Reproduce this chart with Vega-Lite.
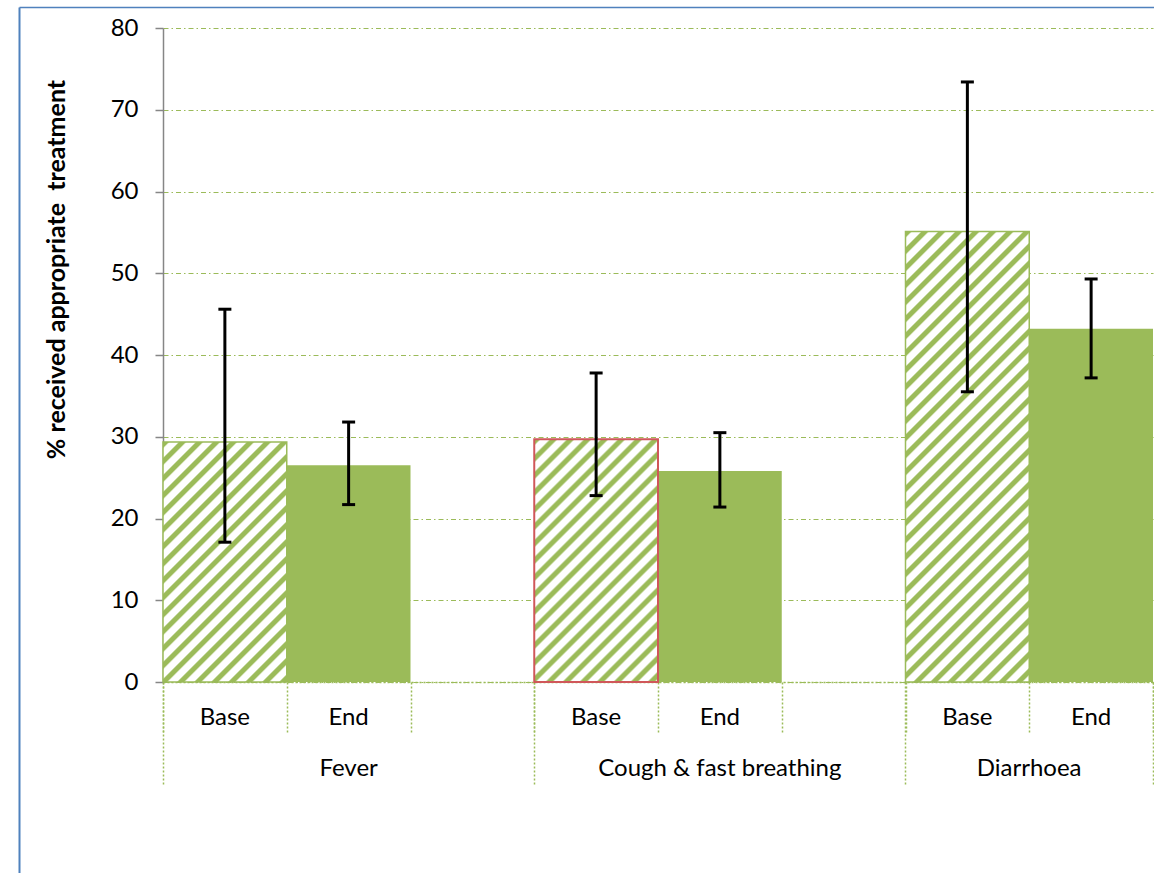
{
  "$schema": "https://vega.github.io/schema/vega-lite/v6.json",
  "width": 990,
  "height": 654,
  "autosize": {"type": "none"},
  "padding": {"left": 163, "top": 28, "right": 1, "bottom": 191},
  "background": "white",
  "config": {"view": {"stroke": null}, "font": "Lato"},
  "data": {
    "values": [
      {"group": "Fever", "phase": "Base", "slot": "Fever|Base", "value": 29.35, "lower": 17.1, "upper": 45.6},
      {"group": "Fever", "phase": "End", "slot": "Fever|End", "value": 26.5, "lower": 21.7, "upper": 31.8},
      {"group": "Cough & fast breathing", "phase": "Base", "slot": "Cough & fast breathing|Base", "value": 29.7, "lower": 22.8, "upper": 37.8},
      {"group": "Cough & fast breathing", "phase": "End", "slot": "Cough & fast breathing|End", "value": 25.8, "lower": 21.4, "upper": 30.5},
      {"group": "Diarrhoea", "phase": "Base", "slot": "Diarrhoea|Base", "value": 55.1, "lower": 35.5, "upper": 73.4},
      {"group": "Diarrhoea", "phase": "End", "slot": "Diarrhoea|End", "value": 43.2, "lower": 37.2, "upper": 49.3}
    ]
  },
  "layer": [
    {
      "layer": [
        {
          "transform": [{"filter": "datum.phase == 'End'"}],
          "mark": {"type": "bar", "fill": "#9BBB59"},
          "encoding": {
            "x": {
              "field": "slot", "type": "nominal",
              "scale": {"type": "band", "domain": ["Fever|Base", "Fever|End", "Fever|gap", "Cough & fast breathing|Base", "Cough & fast breathing|End", "Cough & fast breathing|gap", "Diarrhoea|Base", "Diarrhoea|End"], "paddingInner": 0, "paddingOuter": 0},
              "axis": {
                "orient": "bottom", "title": null, "labels": false, "grid": false,
                "domain": true, "domainColor": "#9BBB59", "domainDash": [2, 2], "domainWidth": 1.5,
                "ticks": true, "tickBand": "extent", "tickColor": "#9BBB59", "tickDash": [2, 2], "tickWidth": 1.5, "tickSize": 51
              }
            },
            "y": {
              "field": "value", "type": "quantitative", "title": "% received appropriate\u00a0 treatment",
              "scale": {"domain": [0, 80], "nice": false},
              "axis": {
                "orient": "left",
                "titleFont": "Lato", "titleFontSize": 25, "titleFontWeight": "bold", "titleColor": "#000000",
                "titleX": -99, "titleY": 241, "titleAngle": -90, "titleAlign": "center", "titleBaseline": "alphabetic",
                "values": [0, 10, 20, 30, 40, 50, 60, 70, 80],
                "domainColor": "#868686", "domainWidth": 1.5,
                "tickColor": "#868686", "tickWidth": 1.5, "tickSize": 8,
                "labelFont": "Lato", "labelFontSize": 24, "labelColor": "#000000", "labelPadding": 17,
                "grid": true, "gridColor": "#9BBB59", "gridDash": [5, 3, 1.5, 3], "gridWidth": 1
              }
            }
          }
        },
        {
          "transform": [{"filter": "datum.slot == 'Fever|Base'"}],
          "mark": {"type": "bar", "stroke": "#9BBB59", "strokeWidth": 1.5,
            "fill": {"gradient": "linear", "x1": 0, "y1": 0, "x2": 0.63517, "y2": 1.23134, "stops": [
              {"offset": 0, "color": "#9BBB59"}, {"offset": 0.01364, "color": "#9BBB59"}, {"offset": 0.01909, "color": "#ffffff"}, {"offset": 0.04, "color": "#ffffff"},
              {"offset": 0.04545, "color": "#9BBB59"}, {"offset": 0.05909, "color": "#9BBB59"}, {"offset": 0.06455, "color": "#ffffff"}, {"offset": 0.08545, "color": "#ffffff"},
              {"offset": 0.09091, "color": "#9BBB59"}, {"offset": 0.10455, "color": "#9BBB59"}, {"offset": 0.11, "color": "#ffffff"}, {"offset": 0.13091, "color": "#ffffff"},
              {"offset": 0.13636, "color": "#9BBB59"}, {"offset": 0.15, "color": "#9BBB59"}, {"offset": 0.15545, "color": "#ffffff"}, {"offset": 0.17636, "color": "#ffffff"},
              {"offset": 0.18182, "color": "#9BBB59"}, {"offset": 0.19545, "color": "#9BBB59"}, {"offset": 0.20091, "color": "#ffffff"}, {"offset": 0.22182, "color": "#ffffff"},
              {"offset": 0.22727, "color": "#9BBB59"}, {"offset": 0.24091, "color": "#9BBB59"}, {"offset": 0.24636, "color": "#ffffff"}, {"offset": 0.26727, "color": "#ffffff"},
              {"offset": 0.27273, "color": "#9BBB59"}, {"offset": 0.28636, "color": "#9BBB59"}, {"offset": 0.29182, "color": "#ffffff"}, {"offset": 0.31273, "color": "#ffffff"},
              {"offset": 0.31818, "color": "#9BBB59"}, {"offset": 0.33182, "color": "#9BBB59"}, {"offset": 0.33727, "color": "#ffffff"}, {"offset": 0.35818, "color": "#ffffff"},
              {"offset": 0.36364, "color": "#9BBB59"}, {"offset": 0.37727, "color": "#9BBB59"}, {"offset": 0.38273, "color": "#ffffff"}, {"offset": 0.40364, "color": "#ffffff"},
              {"offset": 0.40909, "color": "#9BBB59"}, {"offset": 0.42273, "color": "#9BBB59"}, {"offset": 0.42818, "color": "#ffffff"}, {"offset": 0.44909, "color": "#ffffff"},
              {"offset": 0.45455, "color": "#9BBB59"}, {"offset": 0.46818, "color": "#9BBB59"}, {"offset": 0.47364, "color": "#ffffff"}, {"offset": 0.49455, "color": "#ffffff"},
              {"offset": 0.5, "color": "#9BBB59"}, {"offset": 0.51364, "color": "#9BBB59"}, {"offset": 0.51909, "color": "#ffffff"}, {"offset": 0.54, "color": "#ffffff"},
              {"offset": 0.54545, "color": "#9BBB59"}, {"offset": 0.55909, "color": "#9BBB59"}, {"offset": 0.56455, "color": "#ffffff"}, {"offset": 0.58545, "color": "#ffffff"},
              {"offset": 0.59091, "color": "#9BBB59"}, {"offset": 0.60455, "color": "#9BBB59"}, {"offset": 0.61, "color": "#ffffff"}, {"offset": 0.63091, "color": "#ffffff"},
              {"offset": 0.63636, "color": "#9BBB59"}, {"offset": 0.65, "color": "#9BBB59"}, {"offset": 0.65545, "color": "#ffffff"}, {"offset": 0.67636, "color": "#ffffff"},
              {"offset": 0.68182, "color": "#9BBB59"}, {"offset": 0.69545, "color": "#9BBB59"}, {"offset": 0.70091, "color": "#ffffff"}, {"offset": 0.72182, "color": "#ffffff"},
              {"offset": 0.72727, "color": "#9BBB59"}, {"offset": 0.74091, "color": "#9BBB59"}, {"offset": 0.74636, "color": "#ffffff"}, {"offset": 0.76727, "color": "#ffffff"},
              {"offset": 0.77273, "color": "#9BBB59"}, {"offset": 0.78636, "color": "#9BBB59"}, {"offset": 0.79182, "color": "#ffffff"}, {"offset": 0.81273, "color": "#ffffff"},
              {"offset": 0.81818, "color": "#9BBB59"}, {"offset": 0.83182, "color": "#9BBB59"}, {"offset": 0.83727, "color": "#ffffff"}, {"offset": 0.85818, "color": "#ffffff"},
              {"offset": 0.86364, "color": "#9BBB59"}, {"offset": 0.87727, "color": "#9BBB59"}, {"offset": 0.88273, "color": "#ffffff"}, {"offset": 0.90364, "color": "#ffffff"},
              {"offset": 0.90909, "color": "#9BBB59"}, {"offset": 0.92273, "color": "#9BBB59"}, {"offset": 0.92818, "color": "#ffffff"}, {"offset": 0.94909, "color": "#ffffff"},
              {"offset": 0.95455, "color": "#9BBB59"}, {"offset": 0.96818, "color": "#9BBB59"}, {"offset": 0.97364, "color": "#ffffff"}, {"offset": 0.99455, "color": "#ffffff"},
              {"offset": 1, "color": "#9BBB59"}
            ]}
          },
          "encoding": {
            "x": {
              "field": "slot", "type": "nominal",
              "axis": {
                "orient": "bottom", "title": null, "domain": false, "labels": false, "grid": false,
                "values": ["Fever|Base", "Cough & fast breathing|Base", "Diarrhoea|Base"],
                "ticks": true, "bandPosition": 0, "tickColor": "#9BBB59", "tickDash": [2, 2], "tickWidth": 1.5, "tickSize": 103
              }
            },
            "y": {"field": "value", "type": "quantitative", "title": "% received appropriate\u00a0 treatment"}
          }
        },
        {
          "transform": [{"filter": "datum.slot == 'Cough & fast breathing|Base'"}],
          "mark": {"type": "bar", "stroke": "#D0575A", "strokeWidth": 2,
            "fill": {"gradient": "linear", "x1": 0, "y1": 0, "x2": 0.6232, "y2": 1.22273, "stops": [
              {"offset": 0, "color": "#9BBB59"}, {"offset": 0.01364, "color": "#9BBB59"}, {"offset": 0.01909, "color": "#ffffff"}, {"offset": 0.04, "color": "#ffffff"},
              {"offset": 0.04545, "color": "#9BBB59"}, {"offset": 0.05909, "color": "#9BBB59"}, {"offset": 0.06455, "color": "#ffffff"}, {"offset": 0.08545, "color": "#ffffff"},
              {"offset": 0.09091, "color": "#9BBB59"}, {"offset": 0.10455, "color": "#9BBB59"}, {"offset": 0.11, "color": "#ffffff"}, {"offset": 0.13091, "color": "#ffffff"},
              {"offset": 0.13636, "color": "#9BBB59"}, {"offset": 0.15, "color": "#9BBB59"}, {"offset": 0.15545, "color": "#ffffff"}, {"offset": 0.17636, "color": "#ffffff"},
              {"offset": 0.18182, "color": "#9BBB59"}, {"offset": 0.19545, "color": "#9BBB59"}, {"offset": 0.20091, "color": "#ffffff"}, {"offset": 0.22182, "color": "#ffffff"},
              {"offset": 0.22727, "color": "#9BBB59"}, {"offset": 0.24091, "color": "#9BBB59"}, {"offset": 0.24636, "color": "#ffffff"}, {"offset": 0.26727, "color": "#ffffff"},
              {"offset": 0.27273, "color": "#9BBB59"}, {"offset": 0.28636, "color": "#9BBB59"}, {"offset": 0.29182, "color": "#ffffff"}, {"offset": 0.31273, "color": "#ffffff"},
              {"offset": 0.31818, "color": "#9BBB59"}, {"offset": 0.33182, "color": "#9BBB59"}, {"offset": 0.33727, "color": "#ffffff"}, {"offset": 0.35818, "color": "#ffffff"},
              {"offset": 0.36364, "color": "#9BBB59"}, {"offset": 0.37727, "color": "#9BBB59"}, {"offset": 0.38273, "color": "#ffffff"}, {"offset": 0.40364, "color": "#ffffff"},
              {"offset": 0.40909, "color": "#9BBB59"}, {"offset": 0.42273, "color": "#9BBB59"}, {"offset": 0.42818, "color": "#ffffff"}, {"offset": 0.44909, "color": "#ffffff"},
              {"offset": 0.45455, "color": "#9BBB59"}, {"offset": 0.46818, "color": "#9BBB59"}, {"offset": 0.47364, "color": "#ffffff"}, {"offset": 0.49455, "color": "#ffffff"},
              {"offset": 0.5, "color": "#9BBB59"}, {"offset": 0.51364, "color": "#9BBB59"}, {"offset": 0.51909, "color": "#ffffff"}, {"offset": 0.54, "color": "#ffffff"},
              {"offset": 0.54545, "color": "#9BBB59"}, {"offset": 0.55909, "color": "#9BBB59"}, {"offset": 0.56455, "color": "#ffffff"}, {"offset": 0.58545, "color": "#ffffff"},
              {"offset": 0.59091, "color": "#9BBB59"}, {"offset": 0.60455, "color": "#9BBB59"}, {"offset": 0.61, "color": "#ffffff"}, {"offset": 0.63091, "color": "#ffffff"},
              {"offset": 0.63636, "color": "#9BBB59"}, {"offset": 0.65, "color": "#9BBB59"}, {"offset": 0.65545, "color": "#ffffff"}, {"offset": 0.67636, "color": "#ffffff"},
              {"offset": 0.68182, "color": "#9BBB59"}, {"offset": 0.69545, "color": "#9BBB59"}, {"offset": 0.70091, "color": "#ffffff"}, {"offset": 0.72182, "color": "#ffffff"},
              {"offset": 0.72727, "color": "#9BBB59"}, {"offset": 0.74091, "color": "#9BBB59"}, {"offset": 0.74636, "color": "#ffffff"}, {"offset": 0.76727, "color": "#ffffff"},
              {"offset": 0.77273, "color": "#9BBB59"}, {"offset": 0.78636, "color": "#9BBB59"}, {"offset": 0.79182, "color": "#ffffff"}, {"offset": 0.81273, "color": "#ffffff"},
              {"offset": 0.81818, "color": "#9BBB59"}, {"offset": 0.83182, "color": "#9BBB59"}, {"offset": 0.83727, "color": "#ffffff"}, {"offset": 0.85818, "color": "#ffffff"},
              {"offset": 0.86364, "color": "#9BBB59"}, {"offset": 0.87727, "color": "#9BBB59"}, {"offset": 0.88273, "color": "#ffffff"}, {"offset": 0.90364, "color": "#ffffff"},
              {"offset": 0.90909, "color": "#9BBB59"}, {"offset": 0.92273, "color": "#9BBB59"}, {"offset": 0.92818, "color": "#ffffff"}, {"offset": 0.94909, "color": "#ffffff"},
              {"offset": 0.95455, "color": "#9BBB59"}, {"offset": 0.96818, "color": "#9BBB59"}, {"offset": 0.97364, "color": "#ffffff"}, {"offset": 0.99455, "color": "#ffffff"},
              {"offset": 1, "color": "#9BBB59"}
            ]}
          },
          "encoding": {
            "x": {
              "field": "slot", "type": "nominal",
              "axis": {
                "orient": "bottom", "title": null, "domain": false, "labels": false, "grid": false,
                "values": ["Diarrhoea|End"],
                "ticks": true, "bandPosition": 1, "tickColor": "#9BBB59", "tickDash": [2, 2], "tickWidth": 1.5, "tickSize": 103
              }
            },
            "y": {"field": "value", "type": "quantitative", "title": "% received appropriate\u00a0 treatment"}
          }
        },
        {
          "transform": [{"filter": "datum.slot == 'Diarrhoea|Base'"}],
          "mark": {"type": "bar", "stroke": "#9BBB59", "strokeWidth": 1.5,
            "fill": {"gradient": "linear", "x1": 0, "y1": 0, "x2": 0.32785, "y2": 1.19323, "stops": [
              {"offset": 0, "color": "#9BBB59"}, {"offset": 0.00882, "color": "#9BBB59"}, {"offset": 0.01235, "color": "#ffffff"}, {"offset": 0.02588, "color": "#ffffff"},
              {"offset": 0.02941, "color": "#9BBB59"}, {"offset": 0.03824, "color": "#9BBB59"}, {"offset": 0.04176, "color": "#ffffff"}, {"offset": 0.05529, "color": "#ffffff"},
              {"offset": 0.05882, "color": "#9BBB59"}, {"offset": 0.06765, "color": "#9BBB59"}, {"offset": 0.07118, "color": "#ffffff"}, {"offset": 0.08471, "color": "#ffffff"},
              {"offset": 0.08824, "color": "#9BBB59"}, {"offset": 0.09706, "color": "#9BBB59"}, {"offset": 0.10059, "color": "#ffffff"}, {"offset": 0.11412, "color": "#ffffff"},
              {"offset": 0.11765, "color": "#9BBB59"}, {"offset": 0.12647, "color": "#9BBB59"}, {"offset": 0.13, "color": "#ffffff"}, {"offset": 0.14353, "color": "#ffffff"},
              {"offset": 0.14706, "color": "#9BBB59"}, {"offset": 0.15588, "color": "#9BBB59"}, {"offset": 0.15941, "color": "#ffffff"}, {"offset": 0.17294, "color": "#ffffff"},
              {"offset": 0.17647, "color": "#9BBB59"}, {"offset": 0.18529, "color": "#9BBB59"}, {"offset": 0.18882, "color": "#ffffff"}, {"offset": 0.20235, "color": "#ffffff"},
              {"offset": 0.20588, "color": "#9BBB59"}, {"offset": 0.21471, "color": "#9BBB59"}, {"offset": 0.21824, "color": "#ffffff"}, {"offset": 0.23176, "color": "#ffffff"},
              {"offset": 0.23529, "color": "#9BBB59"}, {"offset": 0.24412, "color": "#9BBB59"}, {"offset": 0.24765, "color": "#ffffff"}, {"offset": 0.26118, "color": "#ffffff"},
              {"offset": 0.26471, "color": "#9BBB59"}, {"offset": 0.27353, "color": "#9BBB59"}, {"offset": 0.27706, "color": "#ffffff"}, {"offset": 0.29059, "color": "#ffffff"},
              {"offset": 0.29412, "color": "#9BBB59"}, {"offset": 0.30294, "color": "#9BBB59"}, {"offset": 0.30647, "color": "#ffffff"}, {"offset": 0.32, "color": "#ffffff"},
              {"offset": 0.32353, "color": "#9BBB59"}, {"offset": 0.33235, "color": "#9BBB59"}, {"offset": 0.33588, "color": "#ffffff"}, {"offset": 0.34941, "color": "#ffffff"},
              {"offset": 0.35294, "color": "#9BBB59"}, {"offset": 0.36176, "color": "#9BBB59"}, {"offset": 0.36529, "color": "#ffffff"}, {"offset": 0.37882, "color": "#ffffff"},
              {"offset": 0.38235, "color": "#9BBB59"}, {"offset": 0.39118, "color": "#9BBB59"}, {"offset": 0.39471, "color": "#ffffff"}, {"offset": 0.40824, "color": "#ffffff"},
              {"offset": 0.41176, "color": "#9BBB59"}, {"offset": 0.42059, "color": "#9BBB59"}, {"offset": 0.42412, "color": "#ffffff"}, {"offset": 0.43765, "color": "#ffffff"},
              {"offset": 0.44118, "color": "#9BBB59"}, {"offset": 0.45, "color": "#9BBB59"}, {"offset": 0.45353, "color": "#ffffff"}, {"offset": 0.46706, "color": "#ffffff"},
              {"offset": 0.47059, "color": "#9BBB59"}, {"offset": 0.47941, "color": "#9BBB59"}, {"offset": 0.48294, "color": "#ffffff"}, {"offset": 0.49647, "color": "#ffffff"},
              {"offset": 0.5, "color": "#9BBB59"}, {"offset": 0.50882, "color": "#9BBB59"}, {"offset": 0.51235, "color": "#ffffff"}, {"offset": 0.52588, "color": "#ffffff"},
              {"offset": 0.52941, "color": "#9BBB59"}, {"offset": 0.53824, "color": "#9BBB59"}, {"offset": 0.54176, "color": "#ffffff"}, {"offset": 0.55529, "color": "#ffffff"},
              {"offset": 0.55882, "color": "#9BBB59"}, {"offset": 0.56765, "color": "#9BBB59"}, {"offset": 0.57118, "color": "#ffffff"}, {"offset": 0.58471, "color": "#ffffff"},
              {"offset": 0.58824, "color": "#9BBB59"}, {"offset": 0.59706, "color": "#9BBB59"}, {"offset": 0.60059, "color": "#ffffff"}, {"offset": 0.61412, "color": "#ffffff"},
              {"offset": 0.61765, "color": "#9BBB59"}, {"offset": 0.62647, "color": "#9BBB59"}, {"offset": 0.63, "color": "#ffffff"}, {"offset": 0.64353, "color": "#ffffff"},
              {"offset": 0.64706, "color": "#9BBB59"}, {"offset": 0.65588, "color": "#9BBB59"}, {"offset": 0.65941, "color": "#ffffff"}, {"offset": 0.67294, "color": "#ffffff"},
              {"offset": 0.67647, "color": "#9BBB59"}, {"offset": 0.68529, "color": "#9BBB59"}, {"offset": 0.68882, "color": "#ffffff"}, {"offset": 0.70235, "color": "#ffffff"},
              {"offset": 0.70588, "color": "#9BBB59"}, {"offset": 0.71471, "color": "#9BBB59"}, {"offset": 0.71824, "color": "#ffffff"}, {"offset": 0.73176, "color": "#ffffff"},
              {"offset": 0.73529, "color": "#9BBB59"}, {"offset": 0.74412, "color": "#9BBB59"}, {"offset": 0.74765, "color": "#ffffff"}, {"offset": 0.76118, "color": "#ffffff"},
              {"offset": 0.76471, "color": "#9BBB59"}, {"offset": 0.77353, "color": "#9BBB59"}, {"offset": 0.77706, "color": "#ffffff"}, {"offset": 0.79059, "color": "#ffffff"},
              {"offset": 0.79412, "color": "#9BBB59"}, {"offset": 0.80294, "color": "#9BBB59"}, {"offset": 0.80647, "color": "#ffffff"}, {"offset": 0.82, "color": "#ffffff"},
              {"offset": 0.82353, "color": "#9BBB59"}, {"offset": 0.83235, "color": "#9BBB59"}, {"offset": 0.83588, "color": "#ffffff"}, {"offset": 0.84941, "color": "#ffffff"},
              {"offset": 0.85294, "color": "#9BBB59"}, {"offset": 0.86176, "color": "#9BBB59"}, {"offset": 0.86529, "color": "#ffffff"}, {"offset": 0.87882, "color": "#ffffff"},
              {"offset": 0.88235, "color": "#9BBB59"}, {"offset": 0.89118, "color": "#9BBB59"}, {"offset": 0.89471, "color": "#ffffff"}, {"offset": 0.90824, "color": "#ffffff"},
              {"offset": 0.91176, "color": "#9BBB59"}, {"offset": 0.92059, "color": "#9BBB59"}, {"offset": 0.92412, "color": "#ffffff"}, {"offset": 0.93765, "color": "#ffffff"},
              {"offset": 0.94118, "color": "#9BBB59"}, {"offset": 0.95, "color": "#9BBB59"}, {"offset": 0.95353, "color": "#ffffff"}, {"offset": 0.96706, "color": "#ffffff"},
              {"offset": 0.97059, "color": "#9BBB59"}, {"offset": 0.97941, "color": "#9BBB59"}, {"offset": 0.98294, "color": "#ffffff"}, {"offset": 0.99647, "color": "#ffffff"},
              {"offset": 1, "color": "#9BBB59"}
            ]}
          },
          "encoding": {
            "x": {"field": "slot", "type": "nominal", "axis": null},
            "y": {"field": "value", "type": "quantitative", "title": "% received appropriate\u00a0 treatment"}
          }
        },
        {
          "mark": {"type": "rule", "color": "#000000", "strokeWidth": 3},
          "encoding": {
            "x": {
              "field": "slot", "type": "nominal",
              "axis": {
                "orient": "bottom", "title": null, "domain": false, "ticks": false, "tickSize": 0, "grid": false,
                "labelExpr": "split(datum.value, '|')[1] == 'gap' ? '' : split(datum.value, '|')[1]",
                "labelFont": "Lato", "labelFontSize": 24, "labelColor": "#000000",
                "labelPadding": 35, "labelBaseline": "middle", "labelAngle": 0, "labelLimit": 0
              }
            },
            "y": {"field": "lower", "type": "quantitative", "title": "% received appropriate\u00a0 treatment"},
            "y2": {"field": "upper"}
          }
        },
        {
          "mark": {"type": "tick", "color": "#000000", "size": 13, "thickness": 3, "opacity": 1},
          "encoding": {
            "x": {
              "field": "slot", "type": "nominal",
              "axis": {
                "orient": "bottom", "title": null, "domain": false, "ticks": false, "tickSize": 0, "grid": false,
                "labelExpr": "split(datum.value, '|')[1] == 'End' ? split(datum.value, '|')[0] : ''",
                "labelOffset": {"condition": {"test": "datum.value == 'Diarrhoea|End'", "value": -62}, "value": 0},
                "labelFont": "Lato", "labelFontSize": 24, "labelColor": "#000000",
                "labelPadding": 86, "labelBaseline": "middle", "labelAngle": 0, "labelLimit": 0
              }
            },
            "y": {"field": "lower", "type": "quantitative", "title": "% received appropriate\u00a0 treatment"}
          }
        },
        {
          "mark": {"type": "tick", "color": "#000000", "size": 13, "thickness": 3, "opacity": 1},
          "encoding": {
            "x": {"field": "slot", "type": "nominal", "axis": null},
            "y": {"field": "upper", "type": "quantitative", "title": "% received appropriate\u00a0 treatment"}
          }
        }
      ],
      "resolve": {"axis": {"x": "independent"}}
    },
    {
      "mark": {"type": "point", "opacity": 0},
      "encoding": {
        "x": {
          "field": "slot", "type": "nominal",
          "scale": {"type": "point", "range": [-144, 991]},
          "axis": {"orient": "top", "offset": 21, "domainColor": "#4F81BD", "domainWidth": 1.5, "ticks": false, "labels": false, "grid": false, "title": null}
        },
        "y": {
          "field": "value", "type": "quantitative",
          "scale": {"domain": [0, 80], "nice": false, "range": [846, -21]},
          "axis": {"orient": "left", "offset": 144, "domainColor": "#4F81BD", "domainWidth": 2, "ticks": false, "labels": false, "grid": false, "title": null}
        }
      }
    }
  ],
  "resolve": {
    "scale": {"x": "independent", "y": "independent"},
    "axis": {"x": "independent", "y": "independent"}
  }
}
